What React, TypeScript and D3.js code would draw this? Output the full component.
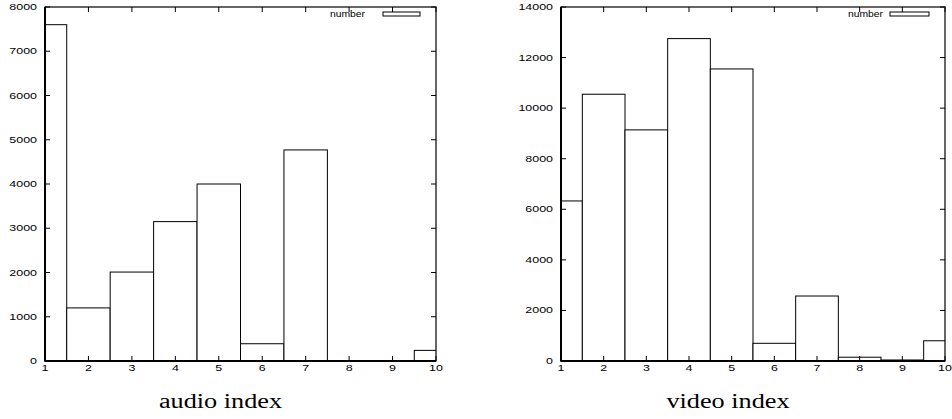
import React from "react";
import * as d3 from "d3";

const indices = [1, 2, 3, 4, 5, 6, 7, 8, 9, 10];
const audioCounts = [7600, 1200, 2010, 3150, 4000, 390, 4770, 0, 0, 240];
const videoCounts = [6330, 10550, 9140, 12750, 11550, 700, 2570, 150, 40, 800];
const audioYTicks = [0, 1000, 2000, 3000, 4000, 5000, 6000, 7000, 8000];
const videoYTicks = [0, 2000, 4000, 6000, 8000, 10000, 12000, 14000];
const legendLabel = "number";

const W = 952;
const H = 419;
const TICK_FONT = "'Liberation Sans', Arial, Helvetica, sans-serif";
const TITLE_FONT = "'Liberation Serif', 'Times New Roman', serif";

type PanelProps = {
  id: string;
  x0: number;
  x1: number;
  values: number[];
  yTicks: number[];
  yMax: number;
  title: string;
  titleX: number;
  legendTextRight: number;
  legendBox: [number, number];
};

function Panel(p: PanelProps) {
  const yTop = 7;
  const yBot = 361;
  const x = d3.scaleLinear().domain([1, 10]).range([p.x0, p.x1]);
  const y = d3.scaleLinear().domain([0, p.yMax]).range([yBot, yTop]);
  const tl = 5;
  const clipId = `clip-${p.id}`;
  return (
    <g>
      <defs>
        <clipPath id={clipId}>
          <rect x={p.x0} y={yTop} width={p.x1 - p.x0} height={yBot - yTop} />
        </clipPath>
      </defs>
      {/* bars */}
      <g clipPath={`url(#${clipId})`}>
        {indices.map((idx, i) => {
          const left = x(idx - 0.5);
          const right = x(idx + 0.5);
          const top = y(p.values[i]);
          return (
            <rect
              key={idx}
              x={left}
              y={top}
              width={right - left}
              height={yBot - top}
              fill="white"
              stroke="black"
              strokeWidth={1}
            />
          );
        })}
      </g>
      {/* border */}
      <rect x={p.x0} y={yTop} width={p.x1 - p.x0} height={yBot - yTop} fill="none" stroke="black" strokeWidth={1.2} />
      <line x1={p.x0} x2={p.x0} y1={yTop} y2={yBot + 0.5} stroke="black" strokeWidth={2} />
      <line x1={p.x0} x2={p.x1} y1={yBot} y2={yBot} stroke="black" strokeWidth={2} />
      {/* y ticks */}
      {p.yTicks.map((t) => (
        <g key={`y${t}`}>
          <line x1={p.x0} x2={p.x0 + tl} y1={y(t)} y2={y(t)} stroke="black" strokeWidth={1} />
          <line x1={p.x1} x2={p.x1 - tl} y1={y(t)} y2={y(t)} stroke="black" strokeWidth={1} />
          <text
            transform={`translate(${p.x0 - 8},${y(t) + 3}) scale(1.5,1)`}
            textAnchor="end"
            fontFamily={TICK_FONT}
            fontSize={8.3}
            fill="black"
          >
            {t}
          </text>
        </g>
      ))}
      {/* x ticks */}
      {indices.map((t) => (
        <g key={`x${t}`}>
          <line x1={x(t)} x2={x(t)} y1={yBot} y2={yBot - tl} stroke="black" strokeWidth={1} />
          <line x1={x(t)} x2={x(t)} y1={yTop} y2={yTop + tl} stroke="black" strokeWidth={1} />
          <text
            transform={`translate(${x(t)},${371}) scale(1.5,1)`}
            textAnchor="middle"
            fontFamily={TICK_FONT}
            fontSize={8.3}
            fill="black"
          >
            {t}
          </text>
        </g>
      ))}
      {/* legend */}
      <text
        transform={`translate(${p.legendTextRight},${17}) scale(1.25,1)`}
        textAnchor="end"
        fontFamily={TICK_FONT}
        fontSize={8.3}
        fill="black"
      >
        {legendLabel}
      </text>
      <rect
        x={p.legendBox[0]}
        y={12}
        width={p.legendBox[1] - p.legendBox[0]}
        height={4}
        fill="white"
        stroke="black"
        strokeWidth={1}
      />
      {/* title */}
      <text
        transform={`translate(${p.titleX},${407.5}) scale(1.28,1)`}
        textAnchor="middle"
        fontFamily={TITLE_FONT}
        fontSize={20.5}
        fill="black"
      >
        {p.title}
      </text>
    </g>
  );
}

export default function App() {
  return (
    <svg
      width={W}
      height={H}
      viewBox={`0 0 ${W} ${H}`}
      style={{ position: "absolute", left: 0, top: 0, background: "white" }}
    >
      <rect x={0} y={0} width={W} height={H} fill="white" />
      <Panel
        id="audio"
        x0={45}
        x1={436}
        values={audioCounts}
        yTicks={audioYTicks}
        yMax={8000}
        title="audio index"
        titleX={220.5}
        legendTextRight={365}
        legendBox={[383, 420]}
      />
      <Panel
        id="video"
        x0={561}
        x1={945}
        values={videoCounts}
        yTicks={videoYTicks}
        yMax={14000}
        title="video index"
        titleX={728}
        legendTextRight={883}
        legendBox={[890, 929]}
      />
    </svg>
  );
}
